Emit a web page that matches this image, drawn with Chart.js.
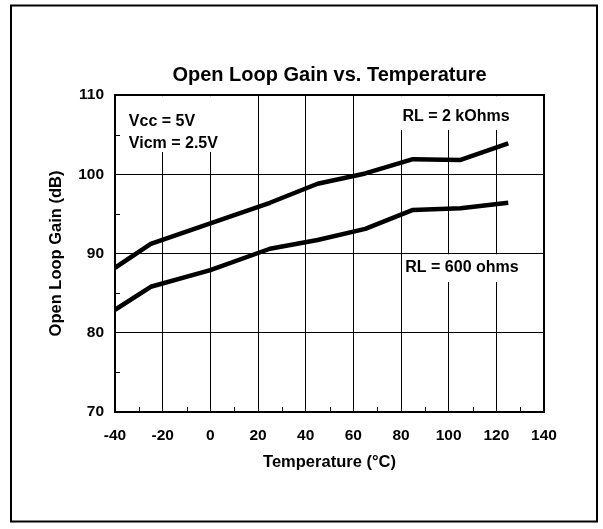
<!DOCTYPE html>
<html>
<head>
<meta charset="utf-8">
<script src="https://cdn.jsdelivr.net/npm/chart.js@4/dist/chart.umd.min.js"></script>
<style>
  body { margin: 0; background: #fff; }
</style>
</head>
<body>
<canvas id="gainChart" width="603" height="529"></canvas>
<script>
// temperatures (°C) and open loop gain (dB)
const temps = [-40, -25, 0, 25, 45, 65, 85, 105, 125];
const gain2k = [88.2, 91.2, 93.8, 96.4, 98.8, 100.1, 101.9, 101.8, 103.9];
const gain600 = [82.9, 85.8, 87.9, 90.6, 91.7, 93.1, 95.5, 95.7, 96.4];

const xTicks = [-40, -20, 0, 20, 40, 60, 80, 100, 120, 140];
const yTicks = [70, 80, 90, 100, 110];
const xMinor = [-30, -10, 10, 30, 50, 70, 90, 110, 130];
const yMinor = [75, 85, 95, 105];

const FONT = '"Liberation Sans", Arial, Helvetica, sans-serif';
Chart.defaults.font.family = FONT;
Chart.defaults.color = '#000';

// text notes inside the plot, placed in data units, with a white box behind
const notes = [
  { lines: [['Vcc = 5V', 106.6], ['Vicm = 2.5V', 103.9]], x: -34.2, box: [-36.6, 5.4, 109.85, 102.8] },
  { lines: [['RL = 2 kOhms', 107.3]], x: 80.6, box: [79.8, 128, 109.85, 105.6] },
  { lines: [['RL = 600 ohms', 88.2]], x: 81.8, box: [80.8, 138, 89.9, 86.4] }
];

const notesPlugin = {
  id: 'notes',
  beforeDatasetsDraw(chart) {
    const { ctx, scales: { x, y } } = chart;
    ctx.save();
    ctx.fillStyle = '#fff';
    notes.forEach(n => {
      const x0 = x.getPixelForValue(n.box[0]);
      const x1 = Math.min(x.getPixelForValue(n.box[1]), chart.chartArea.right - 2);
      const y0 = y.getPixelForValue(n.box[2]);
      const y1 = y.getPixelForValue(n.box[3]);
      ctx.fillRect(x0, y0, x1 - x0, y1 - y0);
    });
    ctx.fillStyle = '#000';
    ctx.font = 'bold 16px ' + FONT;
    ctx.textBaseline = 'middle';
    ctx.textAlign = 'left';
    notes.forEach(n => {
      n.lines.forEach(([t, v]) => {
        ctx.fillText(t, x.getPixelForValue(n.x), y.getPixelForValue(v));
      });
    });
    ctx.restore();
  },
  afterDraw(chart) {
    const { ctx, chartArea: a, scales: { x, y } } = chart;
    ctx.save();
    ctx.strokeStyle = '#000';
    // minor ticks pointing into the plot
    ctx.lineWidth = 1;
    ctx.beginPath();
    xMinor.forEach(v => {
      const px = Math.round(x.getPixelForValue(v)) + 0.5;
      ctx.moveTo(px, a.bottom);
      ctx.lineTo(px, a.bottom - 5);
    });
    yMinor.forEach(v => {
      const py = Math.round(y.getPixelForValue(v)) + 0.5;
      ctx.moveTo(a.left, py);
      ctx.lineTo(a.left + 5, py);
    });
    ctx.stroke();
    // plot frame
    ctx.lineWidth = 2;
    ctx.strokeRect(a.left, a.top, a.right - a.left, a.bottom - a.top);
    // outer page frame
    ctx.strokeRect(11, 5.5, 586, 516);
    ctx.restore();
  }
};

const ctx = document.getElementById('gainChart');

new Chart(ctx, {
  type: 'line',
  data: {
    datasets: [
      {
        label: 'RL = 2 kOhms',
        data: temps.map((t, i) => ({ x: t, y: gain2k[i] })),
        borderColor: '#000',
        borderWidth: 4.5,
        borderJoinStyle: 'round',
        pointRadius: 0,
        tension: 0
      },
      {
        label: 'RL = 600 ohms',
        data: temps.map((t, i) => ({ x: t, y: gain600[i] })),
        borderColor: '#000',
        borderWidth: 4.5,
        borderJoinStyle: 'round',
        pointRadius: 0,
        tension: 0
      }
    ]
  },
  options: {
    responsive: false,
    animation: false,
    events: [],
    layout: {
      padding: { left: 0, right: 59, top: 63, bottom: 0 }
    },
    plugins: {
      legend: { display: false },
      tooltip: { enabled: false },
      title: {
        display: true,
        text: 'Open Loop Gain vs. Temperature',
        fullSize: false,
        color: '#000',
        font: { size: 20, weight: 'bold' },
        padding: { top: 0, bottom: 8 }
      }
    },
    scales: {
      x: {
        type: 'linear',
        min: -40,
        max: 140,
        afterBuildTicks: s => { s.ticks = xTicks.map(v => ({ value: v })); },
        afterFit: s => { s.height = 117; },
        grid: { color: '#000', lineWidth: 1, drawTicks: false },
        border: { color: '#000', width: 2 },
        ticks: {
          padding: 14,
          maxRotation: 0,
          autoSkip: false,
          color: '#000',
          font: { size: 15.5, weight: 'bold' }
        },
        title: {
          display: true,
          text: 'Temperature (°C)',
          color: '#000',
          font: { size: 16.5, weight: 'bold' },
          padding: { top: 0, bottom: 57 }
        }
      },
      y: {
        min: 70,
        max: 110,
        afterBuildTicks: s => { s.ticks = yTicks.map(v => ({ value: v })); },
        afterFit: s => { s.width = 115; },
        grid: { color: '#000', lineWidth: 1, drawTicks: false },
        border: { color: '#000', width: 2 },
        ticks: {
          padding: 11,
          color: '#000',
          font: { size: 15.5, weight: 'bold' }
        },
        title: {
          display: true,
          text: 'Open Loop Gain (dB)',
          color: '#000',
          font: { size: 16.5, weight: 'bold' },
          padding: { top: 47, bottom: 0 }
        }
      }
    }
  },
  plugins: [notesPlugin]
});
</script>
</body>
</html>
